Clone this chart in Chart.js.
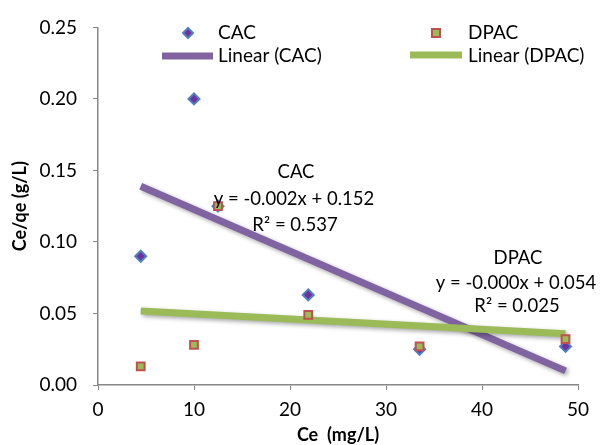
<!DOCTYPE html>
<html>
<head>
<meta charset="utf-8">
<script src="https://cdn.jsdelivr.net/npm/chart.js@4.4.1/dist/chart.umd.min.js"></script>
<style>
  html, body { margin: 0; padding: 0; background: #fff; }
  #wrap { position: relative; width: 600px; height: 445px; }
</style>
</head>
<body>
<div id="wrap"><canvas id="chart" width="600" height="445"></canvas></div>
<script>
// values
const ceValues = [4.45, 10, 12.5, 21.9, 33.5, 48.7];
const cacValues = [0.090, 0.200, 0.125, 0.063, 0.025, 0.027];
const dpacValues = [0.013, 0.028, 0.125, 0.049, 0.027, 0.032];

// trendline end points as drawn
const cacTrendX = [4.45, 48.7];
const cacTrendY = [0.139, 0.0099];
const dpacTrendX = [4.45, 48.7];
const dpacTrendY = [0.0517, 0.0358];

const FONT = 'Lato, "Open Sans", sans-serif';
const AXIS = '#868686';

const pts = (xs, ys) => xs.map((x, i) => ({ x: x, y: ys[i] }));

const shadowPlugin = {
    id: 'shadow',
    beforeDatasetDraw(chart, args) {
        const ds = chart.data.datasets[args.index];
        if (!ds.trend) return;
        const ctx = chart.ctx;
        ctx.save();
        ctx.shadowColor = 'rgba(0,0,0,0.35)';
        ctx.shadowBlur = 4;
        ctx.shadowOffsetX = 2;
        ctx.shadowOffsetY = 2;
    },
    afterDatasetDraw(chart, args) {
        const ds = chart.data.datasets[args.index];
        if (ds.trend) chart.ctx.restore();
    }
};

const labelsPlugin = {
    id: 'labels',
    afterDraw(chart) {
        const ctx = chart.ctx;
        ctx.save();
        ctx.fillStyle = '#000';
        ctx.font = '18.5px ' + FONT;
        ctx.textAlign = 'center';
        ctx.textBaseline = 'middle';
        // trendline equations
        ctx.fillText('CAC', 296, 172);
        ctx.fillText('y = -0.002x + 0.152', 294, 199);
        ctx.fillText('R² = 0.537', 295, 225);
        ctx.fillText('DPAC', 518, 258);
        ctx.fillText('y = -0.000x + 0.054', 516, 283);
        ctx.fillText('R² = 0.025', 517, 306);

        // legend
        ctx.font = '19px ' + FONT;
        ctx.textAlign = 'left';
        ctx.fillText('CAC', 218, 33);
        ctx.fillText('Linear (CAC)', 218, 56);
        ctx.fillText('DPAC', 468, 33);
        ctx.fillText('Linear (DPAC)', 468, 56);

        ctx.lineWidth = 7;
        ctx.strokeStyle = '#8064A2';
        ctx.beginPath(); ctx.moveTo(162, 56); ctx.lineTo(213, 56); ctx.stroke();
        ctx.strokeStyle = '#9BBB59';
        ctx.beginPath(); ctx.moveTo(410, 55); ctx.lineTo(462, 55); ctx.stroke();

        ctx.lineWidth = 2;
        ctx.fillStyle = '#7030A0';
        ctx.strokeStyle = '#4F81BD';
        ctx.beginPath();
        ctx.moveTo(188, 28); ctx.lineTo(193, 33); ctx.lineTo(188, 38); ctx.lineTo(183, 33);
        ctx.closePath(); ctx.fill(); ctx.stroke();
        ctx.fillStyle = '#9BBB59';
        ctx.strokeStyle = '#C0504D';
        ctx.beginPath(); ctx.rect(432, 29, 8, 8); ctx.fill(); ctx.stroke();
        ctx.restore();
    }
};

new Chart(document.getElementById('chart'), {
    type: 'scatter',
    data: {
        datasets: [
            {
                label: 'Linear (CAC)',
                type: 'line',
                trend: true,
                data: pts(cacTrendX, cacTrendY),
                borderColor: '#8064A2',
                borderWidth: 7,
                pointRadius: 0,
                order: 4
            },
            {
                label: 'Linear (DPAC)',
                type: 'line',
                trend: true,
                data: pts(dpacTrendX, dpacTrendY),
                borderColor: '#9BBB59',
                borderWidth: 7,
                pointRadius: 0,
                order: 3
            },
            {
                label: 'CAC',
                data: pts(ceValues, cacValues),
                pointStyle: 'rectRot',
                pointRadius: 5.5,
                backgroundColor: '#7030A0',
                borderColor: '#4F81BD',
                borderWidth: 2,
                order: 2
            },
            {
                label: 'DPAC',
                data: pts(ceValues, dpacValues),
                pointStyle: 'rect',
                pointRadius: 5.5,
                backgroundColor: '#9BBB59',
                borderColor: '#C0504D',
                borderWidth: 2,
                order: 1
            }
        ]
    },
    options: {
        responsive: false,
        animation: false,
        layout: { padding: { top: 19.5, right: 22, left: 0, bottom: 0 } },
        plugins: {
            legend: { display: false },
            tooltip: { enabled: false }
        },
        scales: {
            x: {
                type: 'linear',
                min: 0,
                max: 50,
                ticks: { stepSize: 10, color: '#000', padding: 8, font: { family: FONT, size: 19 } },
                grid: { drawOnChartArea: false, color: AXIS, tickLength: 5 },
                border: { color: AXIS, width: 1.5 },
                title: {
                    display: true,
                    text: 'Ce  (mg/L)',
                    color: '#000',
                    font: { family: FONT, size: 18, weight: 'bold' },
                    padding: { top: 0, bottom: -1 }
                },
                afterFit(scale) { scale.height = 60; }
            },
            y: {
                min: 0,
                max: 0.25,
                ticks: {
                    stepSize: 0.05,
                    color: '#000',
                    padding: 16,
                    font: { family: FONT, size: 19 },
                    callback: v => v.toFixed(2)
                },
                grid: { drawOnChartArea: false, color: AXIS, tickLength: 5 },
                border: { color: AXIS, width: 1.5 },
                title: {
                    display: true,
                    text: 'Ce/qe (g/L)',
                    color: '#000',
                    font: { family: FONT, size: 18, weight: 'bold' },
                    padding: { top: 9, bottom: 0 }
                },
                afterFit(scale) { scale.width = 98; }
            }
        }
    },
    plugins: [shadowPlugin, labelsPlugin]
});
</script>
</body>
</html>
